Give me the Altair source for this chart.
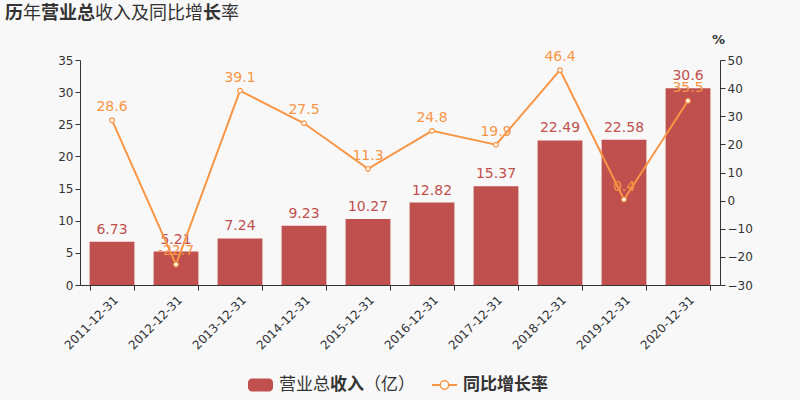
import altair as alt
import pandas as pd

years = ["2011-12-31", "2012-12-31", "2013-12-31", "2014-12-31", "2015-12-31",
         "2016-12-31", "2017-12-31", "2018-12-31", "2019-12-31", "2020-12-31"]
revenue = [6.73, 5.21, 7.24, 9.23, 10.27, 12.82, 15.37, 22.49, 22.58, 30.6]
growth = [28.6, -22.7, 39.1, 27.5, 11.3, 24.8, 19.9, 46.4, 0.4, 35.5]

left_ticks = [0, 5, 10, 15, 20, 25, 30, 35]
right_ticks = [-30, -20, -10, 0, 10, 20, 30, 40, 50]

df = pd.DataFrame({
    "date": years,
    "rev": revenue,
    "g": growth,
    "rev_s": [str(v) for v in revenue],
    "g_s": [str(v) for v in growth],
})

RED = "#c0504d"
ORANGE = "#f79646"
DARK = "#333333"
NUM_FONT = "DejaVu Sans"
CJK = "Noto Sans CJK SC"

x_enc = alt.X(
    "date:N", sort=years,
    scale=alt.Scale(paddingInner=0.3, paddingOuter=0.15),
    axis=alt.Axis(title=None, labelAngle=-45, tickBand="extent", labelFontSize=12,
                  labelColor=DARK, domainColor=DARK, tickColor=DARK, tickSize=5,
                  labelPadding=4, labelFont=NUM_FONT),
)

base = alt.Chart(df).encode(x=x_enc)

y_left = alt.Y(
    "rev:Q",
    scale=alt.Scale(domain=[0, 35], nice=False, zero=True),
    axis=alt.Axis(values=left_ticks, title=None, grid=False, labelFontSize=12,
                  labelColor=DARK, domainColor=DARK, tickColor=DARK, tickSize=5,
                  labelFont=NUM_FONT, labelOverlap=False),
)
y_right = alt.Y(
    "g:Q",
    scale=alt.Scale(domain=[-30, 50], nice=False, zero=False),
    axis=alt.Axis(orient="right", values=right_ticks, title="%", grid=False,
                  labelFontSize=12, labelColor=DARK, domainColor=DARK, tickColor=DARK,
                  tickSize=5, labelFont=NUM_FONT, titleAngle=0, titleAlign="center",
                  titleBaseline="alphabetic", titleX=-2, titleY=-17, titleFontSize=13,
                  titleFontWeight="bold", titleColor=DARK, titleFont=NUM_FONT,
                  labelOverlap=False),
)

bars = base.mark_bar(color=RED).encode(y=y_left)
bar_text = base.mark_text(baseline="bottom", dy=-5, color=RED, fontSize=14,
                          font=NUM_FONT).encode(y=y_left, text="rev_s:N")
left = alt.layer(bars, bar_text)

line = base.mark_line(color=ORANGE, strokeWidth=2).encode(y=y_right)
pts = base.mark_point(filled=True, fill="white", stroke=ORANGE, strokeWidth=1.2,
                      size=22, opacity=1).encode(y=y_right)
line_text = base.mark_text(baseline="bottom", dy=-6, color=ORANGE, fontSize=14,
                           font=NUM_FONT).encode(y=y_right, text="g_s:N")
right = alt.layer(line, pts, line_text)

main = alt.layer(left, right).resolve_scale(y="independent")

one = alt.Data(values=[{}])

def txt(s, xpos, ypos, size, bold, color=DARK):
    return alt.Chart(one).mark_text(
        text=s, align="left", baseline="middle", fontSize=size, font=CJK,
        fontWeight="bold" if bold else "normal", color=color,
    ).encode(x=alt.value(xpos), y=alt.value(ypos))

# title (positions relative to plot origin at 80,60)
ty = -46
title_parts = [
    txt("历", -75, ty, 18, True),
    txt("年", -57, ty, 18, False),
    txt("营业总", -39, ty, 18, True),
    txt("收入及同比增", 15, ty, 18, False),
    txt("长", 123, ty, 18, True),
    txt("率", 141, ty, 18, False),
]

ly = 325
leg_rect = alt.Chart(one).mark_rect(color=RED, cornerRadius=4).encode(
    x=alt.value(168), x2=alt.value(193), y=alt.value(ly - 6.5), y2=alt.value(ly + 6.5))
leg_rule = alt.Chart(one).mark_rule(color=ORANGE, strokeWidth=2).encode(
    x=alt.value(352), x2=alt.value(377), y=alt.value(ly))
leg_pt = alt.Chart(one).mark_point(filled=True, fill="white", stroke=ORANGE,
                                   strokeWidth=1.5, size=70, opacity=1).encode(
    x=alt.value(364.5), y=alt.value(ly))
legend_parts = [
    leg_rect,
    txt("营业总", 199, ly, 17, False),
    txt("收入", 250, ly, 17, True),
    txt("（亿）", 284, ly, 17, False),
    leg_rule, leg_pt,
    txt("同比增长率", 383, ly, 17, True),
]

chart = alt.layer(main, *title_parts, *legend_parts).properties(
    width=640, height=225,
    autosize=alt.AutoSizeParams(type="none"),
    padding={"left": 80, "top": 60, "right": 80, "bottom": 115},
    background="#f8f8f8",
).configure_view(stroke=None)

chart.save("out.html", embed_options={"renderer": "svg", "actions": False})
